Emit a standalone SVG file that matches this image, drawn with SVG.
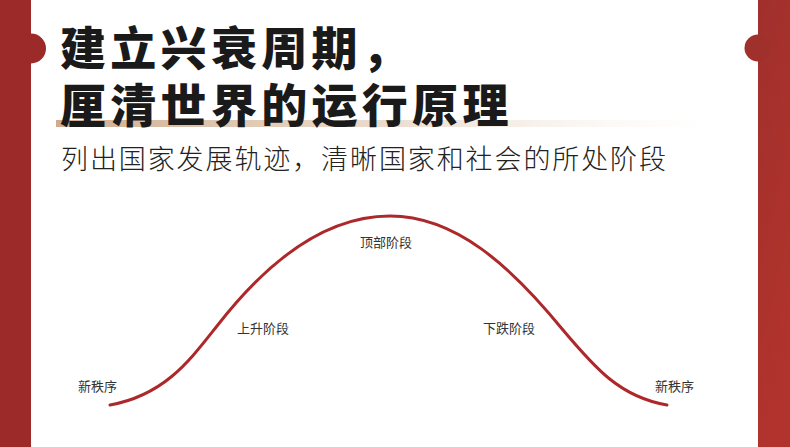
<svg xmlns="http://www.w3.org/2000/svg" width="790" height="447" viewBox="0 0 790 447">
<defs>
<linearGradient id="bar" x1="0" y1="0" x2="1" y2="0">
<stop offset="0" stop-color="#c9a282" stop-opacity="0.9"/>
<stop offset="0.5" stop-color="#e2cbb5" stop-opacity="0.7"/>
<stop offset="1" stop-color="#f3e9df" stop-opacity="0"/>
</linearGradient>
<linearGradient id="rband" x1="0" y1="0" x2="0.3" y2="1">
<stop offset="0" stop-color="#a0302c"/>
<stop offset="1" stop-color="#b2332d"/>
</linearGradient>
</defs>
<style>
.title{font-family:"Noto Sans CJK SC",sans-serif;font-weight:900;font-size:46px;fill:#1a1a1a;letter-spacing:4.3px}
.sub{font-family:"Noto Sans CJK SC",sans-serif;font-weight:300;font-size:27px;fill:#222;letter-spacing:1.9px}
.lbl{font-family:"Noto Sans CJK SC",sans-serif;font-weight:400;font-size:13px;fill:#333}
</style>
<rect width="790" height="447" fill="#ffffff"/>
<g id="left-band">
<rect x="0" y="0" width="31" height="447" fill="#9b2a29"/>
<circle cx="31" cy="48.5" r="15" fill="#9b2a29"/>
</g>
<g id="right-band">
<rect x="758" y="0" width="32" height="447" fill="url(#rband)"/>
<circle cx="758" cy="48" r="13.5" fill="#a0302c"/>
</g>
<rect x="56" y="120" width="650" height="7" fill="url(#bar)"/>
<text class="title"><tspan x="60" y="65">建立兴衰周期，</tspan><tspan x="60" y="122">厘清世界的运行原理</tspan></text>
<text class="sub" x="61" y="169">列出国家发展轨迹，清晰国家和社会的所处阶段</text>
<g id="connectors">
<path d="M110,405 C165,395 190,360 217,326 C262,268 320,216 390,216 C455,216 510,265 563,330 C595,368 620,397 667,405" fill="none" stroke="#ad282b" stroke-width="3" stroke-linecap="round"/>
</g>
<g id="n-start"><text class="lbl" x="78" y="391">新秩序</text></g>
<g id="n-rise"><text class="lbl" x="237" y="333">上升阶段</text></g>
<g id="n-top"><text class="lbl" x="360" y="247">顶部阶段</text></g>
<g id="n-fall"><text class="lbl" x="483" y="333">下跌阶段</text></g>
<g id="n-end"><text class="lbl" x="655" y="391">新秩序</text></g>
</svg>
